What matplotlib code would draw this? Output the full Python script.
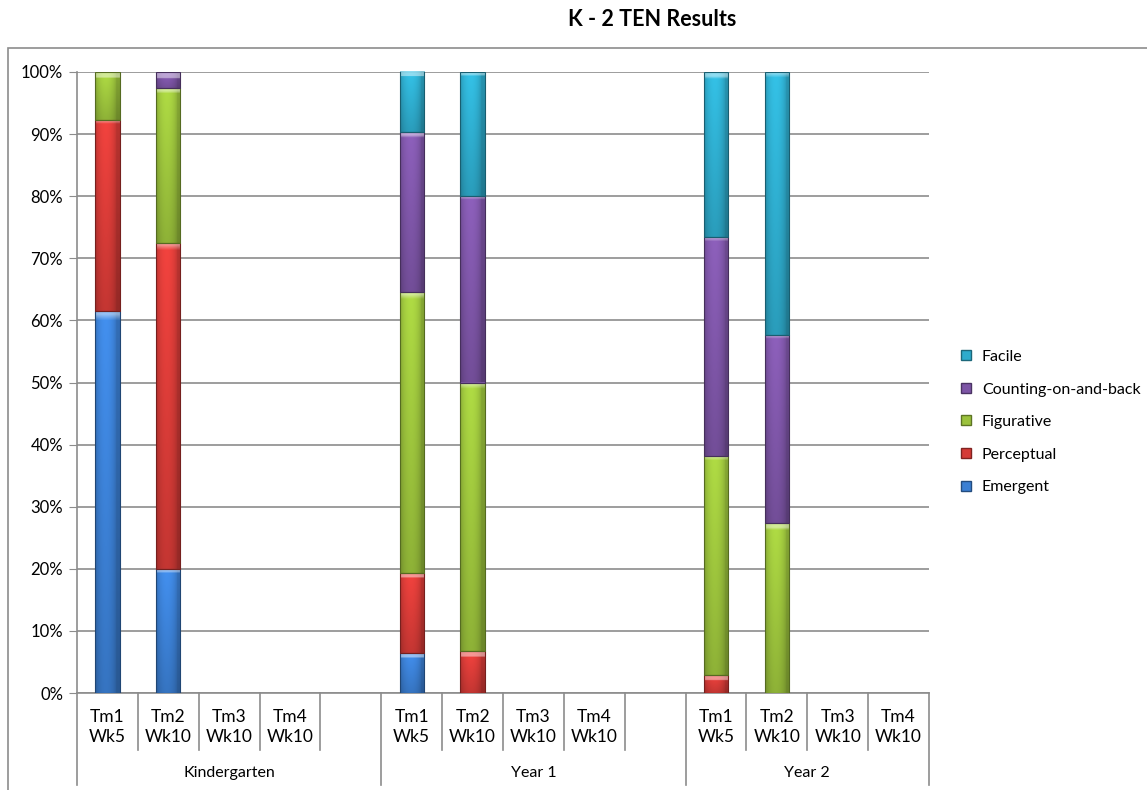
import numpy as np
import matplotlib.pyplot as plt
from matplotlib.patches import Rectangle
from matplotlib.lines import Line2D
from matplotlib.colors import to_rgb

plt.rcParams['font.family'] = ['Lato', 'DejaVu Sans']

groups = ["Kindergarten", "Year 1", "Year 2"]
terms = ["Tm1\nWk5", "Tm2\nWk10", "Tm3\nWk10", "Tm4\nWk10"]

# percentages per group x term (Tm3/Tm4 have no data yet)
emergent   = [61.5, 20.0, 0, 0,   6.5, 0.0, 0, 0,   0.0, 0.0, 0, 0]
perceptual = [30.8, 52.5, 0, 0,  12.9, 6.7, 0, 0,   2.9, 0.0, 0, 0]
figurative = [7.7, 25.0, 0, 0,   45.2, 43.3, 0, 0,  35.3, 27.3, 0, 0]
counting   = [0.0, 2.5, 0, 0,    25.8, 30.0, 0, 0,  35.3, 30.3, 0, 0]
facile     = [0.0, 0.0, 0, 0,     9.7, 20.0, 0, 0,  26.5, 42.4, 0, 0]

series = ["Emergent", "Perceptual", "Figurative", "Counting-on-and-back", "Facile"]
values = [emergent, perceptual, figurative, counting, facile]
colors = ["#3b7fd3", "#d63b37", "#9bc23c", "#7d55a6", "#2eabcc"]

# slot layout: 4 terms + blank slot between groups
slots_per_group = [5, 5, 4]
xpos = []
start = 0
for n in slots_per_group:
    xpos += [start + k for k in range(4)]
    start += n
xpos = np.array(xpos, dtype=float)
nslots = sum(slots_per_group)

fig = plt.figure(figsize=(11.47, 7.9), dpi=100)
ax = fig.add_axes([77 / 1147, 1 - 693 / 790, (929 - 77) / 1147, (693 - 72) / 790])

grid_c = "#8c8c8c"
bw = 0.4


def shade_image(rgb, h_px=40):
    nx, ny = 40, 60
    u = np.linspace(0, 1, nx)
    horiz = 0.82 + 0.26 * np.sin(np.pi * np.clip(u * 1.15, 0, 1)) ** 0.6
    v = np.linspace(0, 1, ny)  # 0 = top
    vert = 1.05 - 0.2 * v
    f = vert[:, None] * horiz[None, :]
    img = np.clip(np.array(rgb)[None, None, :] * f[:, :, None], 0, 1)
    # highlight strip at top of segment
    top = max(1, int(ny * min(0.5, 6 / max(h_px, 1))))
    img[:top] = np.clip(img[:top] * 0.55 + 0.45, 0, 1)
    return img


bottom = np.zeros(len(xpos))
for name, vals, c in zip(series, values, colors):
    vals = np.array(vals, dtype=float)
    rgb = to_rgb(c)
    dark = tuple(x * 0.55 for x in rgb)
    bars = ax.bar(xpos, vals, bw, bottom=bottom, color=c, linewidth=0,
                  zorder=3, label=name)
    for rect, val in zip(bars, vals):
        if val <= 0:
            rect.set_visible(False)
            continue
        x0, y0 = rect.get_x(), rect.get_y()
        w, h = rect.get_width(), rect.get_height()
        im = ax.imshow(shade_image(rgb, h * 6.21), extent=[x0, x0 + w, y0, y0 + h],
                       aspect='auto', zorder=3.5, interpolation='bilinear')
        im.set_clip_path(rect)
        ax.add_patch(Rectangle((x0, y0), w, h, fill=False, edgecolor=dark,
                               linewidth=0.8, zorder=4))
    bottom += vals

ax.set_xlim(-0.5, nslots - 0.5)
ax.set_ylim(0, 100)
ax.set_yticks(np.arange(0, 101, 10))
ax.set_yticklabels([f"{t}%" for t in range(0, 101, 10)], fontsize=12)
ax.yaxis.grid(True, color=grid_c, linewidth=1.2, zorder=0)
ax.set_axisbelow(True)
ax.tick_params(axis='y', length=6, color=grid_c, pad=4)
ax.set_xticks([])
for s in ["top", "right"]:
    ax.spines[s].set_visible(False)
ax.spines["left"].set_color(grid_c)
ax.spines["bottom"].set_color(grid_c)
ax.spines["left"].set_linewidth(1.2)
ax.spines["bottom"].set_linewidth(1.2)

# multi-level category axis
trans = ax.get_xaxis_transform()
px = 1 / (693 - 72)
inner_low = -(750 - 693) * px
outer_low = -(785 - 693) * px
start = 0
for gi, n in enumerate(slots_per_group):
    ax.plot([start - 0.5] * 2, [0, outer_low], transform=trans, color=grid_c,
            lw=1.2, clip_on=False)
    for k in range(1, n):
        ax.plot([start + k - 0.5] * 2, [0, inner_low], transform=trans,
                color=grid_c, lw=1.2, clip_on=False)
    for k in range(4):
        ax.text(start + k, -(727 - 693) * px, terms[k], transform=trans,
                ha='center', va='center', fontsize=12.5, linespacing=1.25)
    ax.text(start + (n - 1) / 2, -(773 - 693) * px, groups[gi], transform=trans,
            ha='center', va='center', fontsize=11.5)
    start += n
ax.plot([nslots - 0.5] * 2, [0, outer_low], transform=trans, color=grid_c,
        lw=1.2, clip_on=False)

# outer chart frame
fig.add_artist(Rectangle((8 / 1147, -0.1), 1.2, 0.1 + (790 - 48) / 790,
                         transform=fig.transFigure, fill=False,
                         edgecolor="#8c8c8c", linewidth=1.2))

fig.text(652 / 1147, 1 - 20 / 790, "K - 2 TEN Results", ha='center', va='center',
         fontsize=15.5, fontweight='bold')

handles = [Line2D([], [], marker='s', linestyle='none', markersize=7,
                  markerfacecolor=c, markeredgecolor=tuple(x * 0.6 for x in to_rgb(c)))
           for c in colors]
leg = fig.legend(handles[::-1], series[::-1], loc='center left',
                 bbox_to_anchor=(950 / 1147, 1 - 422 / 790), frameon=False,
                 fontsize=11.5, labelspacing=1.15, handletextpad=0.5,
                 handlelength=1.0, borderpad=0)

fig.savefig("out.png", dpi=100)
